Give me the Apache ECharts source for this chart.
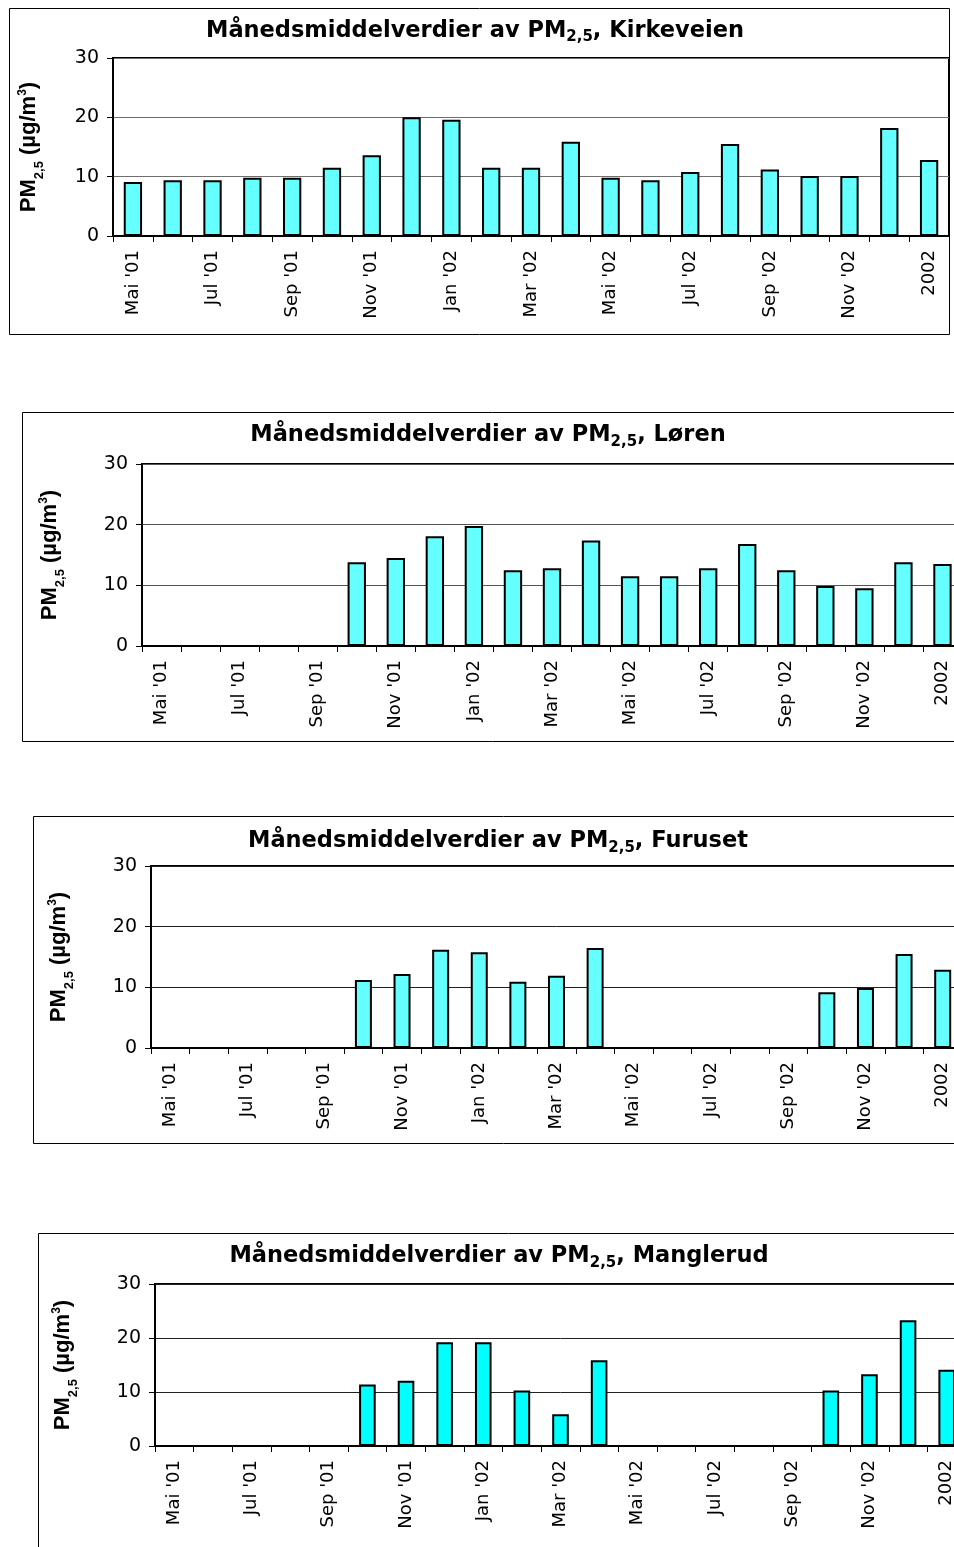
<!DOCTYPE html>
<html>
<head>
<meta charset="utf-8">
<script src="https://cdn.jsdelivr.net/npm/echarts@6/dist/echarts.min.js"></script>
<style>
html,body{margin:0;padding:0;background:#fff;overflow:hidden;width:954px;height:1547px;position:relative}
.c{position:absolute}
</style>
</head>
<body>
<div id="c1" class="c"></div>
<div id="c2" class="c"></div>
<div id="c3" class="c"></div>
<div id="c4" class="c"></div>
<script>
// ---------- data ----------
const categories = ["Mai '01","Jun '01","Jul '01","Aug '01","Sep '01","Okt '01","Nov '01","Des '01",
  "Jan '02","Feb '02","Mar '02","Apr '02","Mai '02","Jun '02","Jul '02","Aug '02","Sep '02","Okt '02",
  "Nov '02","Des '02","2002"];
const stations = ["Kirkeveien", "Løren", "Furuset", "Manglerud"];
const kirkeveien = [9.1, 9.4, 9.4, 9.8, 9.8, 11.5, 13.6, 20.0, 19.6, 11.5, 11.5, 15.9, 9.8, 9.4, 10.8, 15.5, 11.2, 10.1, 10.1, 18.2, 12.8];
const loren      = [null, null, null, null, null, 13.8, 14.5, 18.1, 19.8, 12.5, 12.8, 17.4, 11.5, 11.5, 12.8, 16.8, 12.5, 9.9, 9.5, 13.8, 13.5];
const furuset    = [null, null, null, null, null, 11.2, 12.2, 16.2, 15.8, 10.9, 11.9, 16.5, null, null, null, null, null, 9.2, 9.9, 15.5, 12.9];
const manglerud  = [null, null, null, null, null, 11.4, 12.1, 19.2, 19.2, 10.3, 5.9, 15.9, null, null, null, null, null, 10.3, 13.3, 23.3, 14.1];
const yMin = 0, yMax = 30, yStep = 10;

// ---------- layout / style ----------
const layouts = [
  {id:'c1', data:kirkeveien, L:9,  T:8,    W:941, H:327, g:{left:104, top:50, width:836, height:178}, tx:466, ty:23, gap:67, bw:'46%', color:'#66FFFF', split:'#6e6e6e'},
  {id:'c2', data:loren,      L:22, T:412,  W:941, H:330, g:{left:120, top:52, width:820, height:182}, tx:466, ty:23.5, gap:75, bw:'47%', color:'#66FFFF', split:'#555555'},
  {id:'c3', data:furuset,    L:33, T:816,  W:941, H:328, g:{left:118, top:50, width:811, height:182}, tx:465, ty:25.5, gap:75, bw:'44%', color:'#66FFFF', split:'#222222'},
  {id:'c4', data:manglerud,  L:38, T:1233, W:941, H:340, g:{left:117, top:51, width:811, height:162}, tx:461, ty:23.5, gap:75, bw:'43%', color:'#00FFFF', split:'#222222'}
];

const titleRich = {
  m: {fontFamily:'DejaVu Sans', fontWeight:'bold', fontSize:22.5, lineHeight:32, fill:'#000', color:'#000'},
  s: {fontFamily:'DejaVu Sans', fontWeight:'bold', fontSize:15, verticalAlign:'bottom', padding:[0,0,2,0], fill:'#000', color:'#000'}
};
const nameRich = {
  m:  {fontFamily:'Liberation Sans', fontWeight:'bold', fontSize:22, lineHeight:34, color:'#000'},
  sb: {fontFamily:'Liberation Sans', fontWeight:'bold', fontSize:13, verticalAlign:'bottom', color:'#000'},
  sp: {fontFamily:'Liberation Sans', fontWeight:'bold', fontSize:12, verticalAlign:'top', padding:[5,0,0,0], color:'#000'}
};

layouts.forEach((cfg, i) => {
  const el = document.getElementById(cfg.id);
  el.style.left = cfg.L + 'px';
  el.style.top = cfg.T + 'px';
  el.style.width = cfg.W + 'px';
  el.style.height = cfg.H + 'px';
  const chart = echarts.init(el, null, {renderer:'canvas'});
  chart.setOption({
    animation: false,
    backgroundColor: '#fff',
    graphic: [
      {type:'rect', silent:true, z:-10, shape:{x:0.5, y:0.5, width:cfg.W-1, height:cfg.H-1},
       style:{fill:'#fff', stroke:'#000', lineWidth:1}},
      {type:'text', silent:true, x:cfg.tx, y:cfg.ty,
       style:{text:'{m|Månedsmiddelverdier av PM}{s|2,5}{m|, ' + stations[i] + '}',
              rich:titleRich, align:'center', verticalAlign:'middle', fill:'#000'}}
    ],
    grid: Object.assign({show:true, borderColor:'#000', borderWidth:2, backgroundColor:'transparent',
                         containLabel:false, outerBoundsMode:'none'}, cfg.g),
    xAxis: {
      type:'category', data:categories, boundaryGap:true,
      axisLine:{show:true, lineStyle:{color:'#000', width:2}},
      axisTick:{show:true, interval:0, length:6, alignWithLabel:false, lineStyle:{color:'#000', width:1}},
      axisLabel:{show:true, interval:1, rotate:90, margin:14, fontFamily:'DejaVu Sans', fontSize:18, color:'#000'},
      splitLine:{show:false}
    },
    yAxis: {
      type:'value', min:yMin, max:yMax, interval:yStep,
      axisLine:{show:true, lineStyle:{color:'#000', width:1.5}},
      axisTick:{show:true, length:6, lineStyle:{color:'#000', width:1}},
      axisLabel:{margin:14, fontFamily:'DejaVu Sans', fontSize:19, color:'#000'},
      splitLine:{show:true, lineStyle:{color:cfg.split, width:1}},
      name:'{m|PM}{sb|2,5}{m| (µg/m}{sp|3}{m|)}',
      nameLocation:'middle', nameRotate:90, nameGap:cfg.gap,
      nameTextStyle:{rich:nameRich}
    },
    series: [{
      type:'bar', data:cfg.data, barWidth:cfg.bw,
      itemStyle:{color:cfg.color, borderColor:'#000', borderWidth:2},
      emphasis:{disabled:true}
    }]
  });
});
</script>
</body>
</html>
